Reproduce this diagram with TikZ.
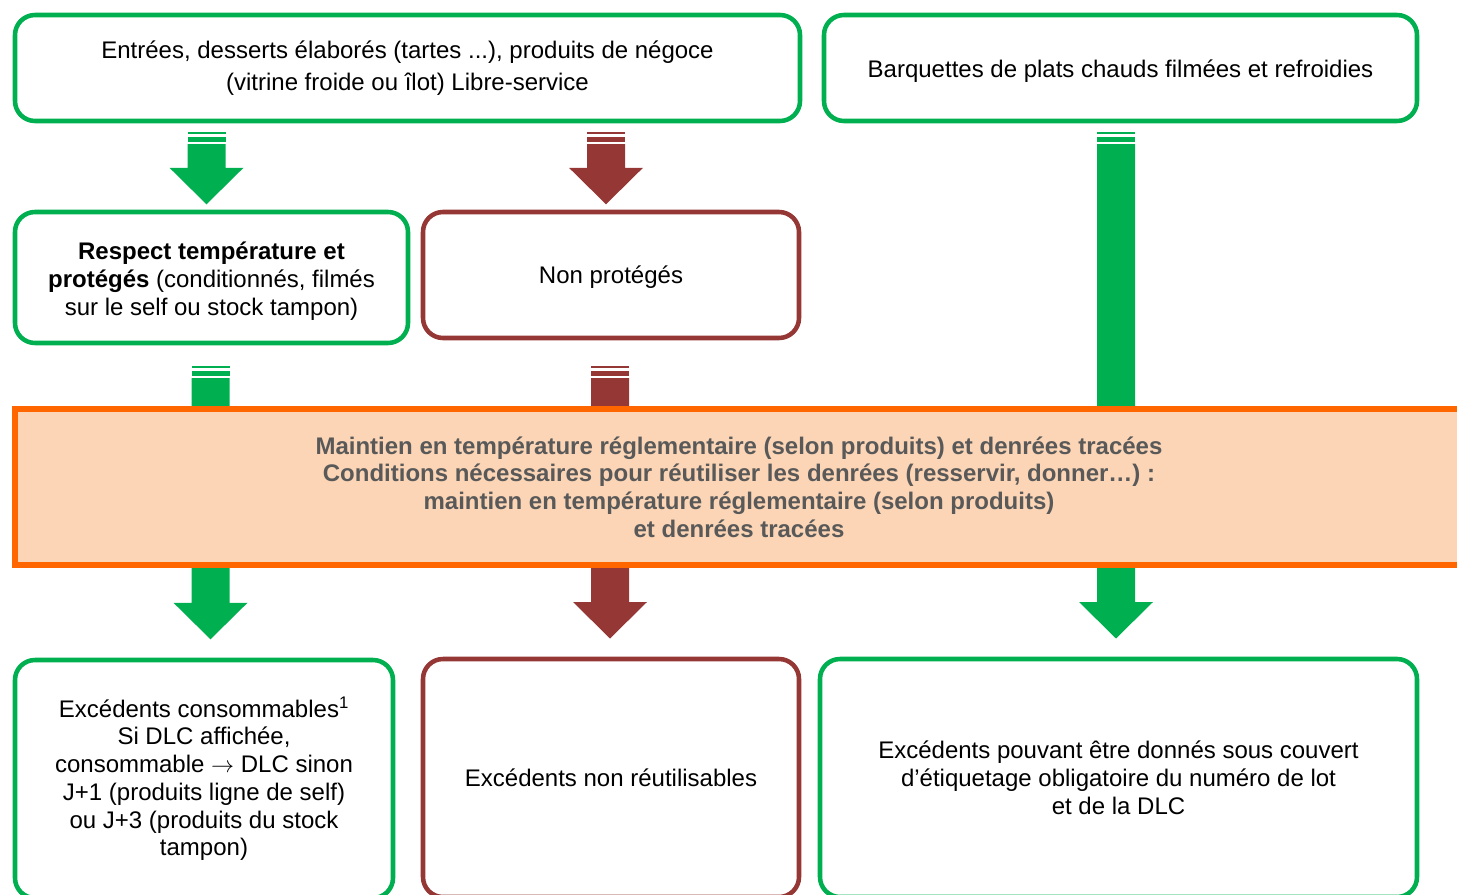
\documentclass[tikz,border=0pt]{standalone}
\usepackage{fontspec}
\setmainfont{Liberation Sans}
\usetikzlibrary{calc}

\definecolor{boxgreen}{HTML}{00B050}
\definecolor{boxred}{HTML}{953735}
\definecolor{bandorange}{HTML}{FF6600}
\definecolor{bandfill}{HTML}{FBD5B5}
\definecolor{bandtext}{HTML}{595959}

\tikzset{
	box/.style={draw, line width=3.4pt, rounded corners=15pt, align=center, inner sep=0pt,
		font=\fontsize{18}{20.8}\selectfont},
	greenbox/.style={box, draw=boxgreen},
	redbox/.style={box, draw=boxred},
	boxtext/.style={box, draw=none},
	band/.style={draw=bandorange, fill=bandfill, line width=3.8pt, align=center, inner sep=0pt,
		text=bandtext, font=\fontsize{18}{20.8}\selectfont\bfseries}
}

\newcommand{\blockarrow}[3]{%
	\fill[#1] ($(#2)+(-19,0)$) rectangle ($(#2)+(19,2.6)$);
	\fill[#1] ($(#2)+(-19,5)$) rectangle ($(#2)+(19,10)$);
	\fill[#1] ($(#2)+(-19,12.5)$) -- ($(#3)+(-19,-36.5)$) -- ($(#3)+(-37,-36.5)$) -- (#3)
		-- ($(#3)+(37,-36.5)$) -- ($(#3)+(19,-36.5)$) -- ($(#2)+(19,12.5)$) -- cycle;
}

\begin{document}
\begin{tikzpicture}[x=0.75pt,y=-0.75pt]
\useasboundingbox (0,0) rectangle (1457,895);
\clip (0,0) rectangle (1457,895);

\path (206.5,131.7) coordinate (in1)
		(206.5,204.3) coordinate (out1)
		(606,131.7) coordinate (in2)
		(606,204.3) coordinate (out2)
		(1116,131.7) coordinate (in3)
		(1116,638.5) coordinate (out3)
		(210.5,365.7) coordinate (in4)
		(210.5,639.3) coordinate (out4)
		(610,365.7) coordinate (in5)
		(610,638.5) coordinate (out5);

\blockarrow{boxgreen}{in1}{out1}
\blockarrow{boxred}{in2}{out2}
\blockarrow{boxgreen}{in3}{out3}
\blockarrow{boxgreen}{in4}{out4}
\blockarrow{boxred}{in5}{out5}

\path (407.5,68) node[greenbox, minimum width=588.75pt, minimum height=79.5pt] (entrees)
			{Entrées, desserts élaborés (tartes ...), produits de négoce\\[3.4pt]
			(vitrine froide ou îlot) Libre-service}
		(1120.5,68) node[greenbox, minimum width=444.75pt, minimum height=79.5pt] (barquettes) {}
		(1120.5,71) node[boxtext] (barquettes-txt) {Barquettes de plats chauds filmées et refroidies}
		(211.5,277.5) node[greenbox, minimum width=294.75pt, minimum height=98.25pt] (protege) {}
		(211.5,281) node[boxtext] (protege-txt)
			{\textbf{Respect température et}\\
			\textbf{protégés} (conditionnés, filmés\\
			sur le self ou stock tampon)}
		(611,275) node[redbox, minimum width=282pt, minimum height=94.5pt] (nonprotege) {}
		(611,277.5) node[boxtext] (nonprotege-txt) {Non protégés}
		(739,487) node[band, minimum width=1086pt, minimum height=117pt] (maintien)
			{Maintien en température réglementaire (selon produits) et denrées tracées\\
			Conditions nécessaires pour réutiliser les denrées (resservir, donner…) :\\
			maintien en température réglementaire (selon produits)\\
			et denrées tracées}
		(204,779) node[greenbox, minimum width=283.5pt, minimum height=178.5pt] (consommables)
			{Excédents consommables\textsuperscript{1}\\
			Si DLC affichée,\\
			consommable $\rightarrow$ DLC sinon\\
			J+1 (produits ligne de self)\\
			ou J+3 (produits du stock\\
			tampon)}
		(611,778) node[redbox, minimum width=282pt, minimum height=178.5pt] (nonreutil)
			{Excédents non réutilisables}
		(1118.5,778) node[greenbox, minimum width=447.75pt, minimum height=178.5pt] (donnes)
			{Excédents pouvant être donnés sous couvert\\
			d’étiquetage obligatoire du numéro de lot\\
			et de la DLC};
\end{tikzpicture}
\end{document}
